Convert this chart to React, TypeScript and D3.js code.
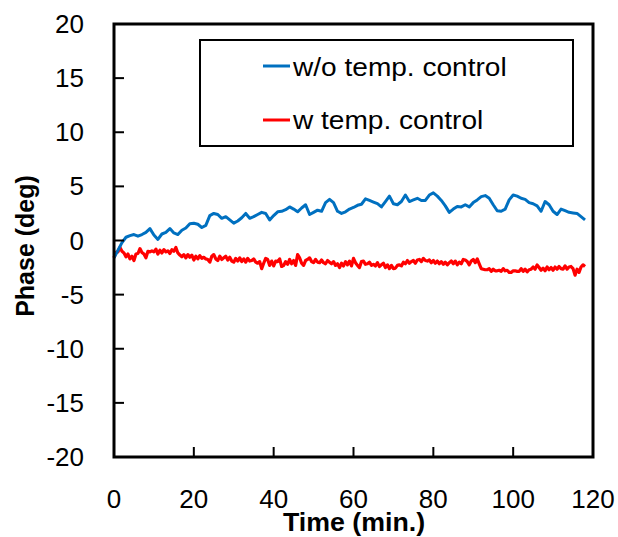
import React from "react";
import * as d3 from "d3";

const blueT = d3.range(0, 119, 1);
const blueV = [
  -1.6, -0.9, -0.2, 0.3, 0.45, 0.55, 0.4, 0.55, 0.75, 1.1,
  0.5, 0.1, 0.6, 0.75, 1.1, 0.7, 0.55, 0.95, 1.15, 1.55,
  1.6, 1.5, 1.2, 1.4, 2.3, 2.5, 2.4, 2.05, 2.2, 1.9,
  1.6, 1.8, 2.1, 2.5, 2.05, 2.2, 2.4, 2.6, 2.5, 1.9,
  2.3, 2.65, 2.7, 2.85, 3.1, 2.9, 2.65, 3.0, 3.3, 2.4,
  2.6, 2.8, 2.7, 3.5, 3.8, 3.5, 2.7, 2.5, 2.65, 2.9,
  3.05, 3.25, 3.35, 3.85, 3.7, 3.55, 3.4, 3.1, 3.6, 4.1,
  3.4, 3.3, 3.6, 4.2, 3.6, 3.75, 3.9, 3.7, 3.7, 4.2,
  4.4, 4.1, 3.7, 3.2, 2.6, 2.9, 3.15, 3.1, 3.3, 3.1,
  3.5, 3.75, 4.05, 4.15, 3.9, 3.3, 2.75, 2.7, 2.9, 3.75,
  4.2, 4.1, 3.9, 3.8, 3.5, 3.4, 3.2, 2.7, 3.6, 3.3,
  2.7, 2.4, 2.9, 2.75, 2.6, 2.55, 2.5, 2.2, 1.9,
];

const redV = [
  -1.6, -1.1, -1.05, -0.65, -1.0, -1.15, -1.5, -1.25, -1.7, -1.45,
  -1.85, -1.25, -1.2, -0.75, -1.1, -1.25, -1.6, -1.0, -1.05, -0.95,
  -1.05, -0.8, -1.25, -0.9, -1.15, -0.85, -1.05, -0.95, -1.2, -0.85,
  -1.0, -0.65, -1.15, -1.35, -1.5, -1.3, -1.6, -1.3, -1.55, -1.35,
  -1.8, -1.45, -1.7, -1.4, -1.65, -1.55, -1.7, -1.75, -2.0, -1.45,
  -1.3, -1.7, -1.85, -1.45, -1.75, -1.6, -1.45, -1.8, -1.55, -1.9,
  -2.0, -1.65, -1.9, -1.6, -1.95, -1.7, -2.0, -1.65, -1.9, -1.85,
  -1.7, -2.0, -2.1, -1.95, -2.6, -2.1, -1.65, -1.75, -2.3, -1.9,
  -2.35, -1.9, -1.95, -1.7, -2.4, -2.3, -1.95, -2.2, -1.75, -2.15,
  -1.85, -2.3, -1.3, -1.6, -2.1, -2.3, -1.85, -1.75, -1.6, -1.95,
  -2.05, -1.75, -2.0, -2.05, -1.8, -2.05, -2.15, -1.85, -2.0, -2.15,
  -1.95, -2.3, -2.15, -2.5, -2.1, -2.35, -1.95, -2.25, -1.9, -2.35,
  -1.65, -2.05, -2.3, -2.5, -1.95, -1.9, -2.2, -2.15, -2.0, -2.3,
  -2.2, -2.35, -2.05, -2.4, -2.25, -2.1, -2.5, -2.25, -2.6, -2.3,
  -2.6, -2.55, -2.3, -2.25, -2.35, -2.0, -2.15, -1.85, -2.1, -1.95,
  -1.85, -2.1, -1.8, -1.75, -1.95, -1.65, -1.85, -1.9, -1.8, -2.05,
  -1.85, -2.1, -1.9, -2.15, -1.95, -2.2, -2.0, -2.25, -2.05, -1.9,
  -2.15, -1.9, -2.25, -2.0, -2.15, -1.75, -1.8, -1.95, -2.25, -1.9,
  -1.75, -2.05, -1.7, -2.15, -2.6, -2.65, -2.7, -2.7, -2.6, -2.85,
  -2.65, -2.8, -2.8, -2.75, -2.85, -2.6, -2.8, -2.75, -2.95, -2.95,
  -2.8, -2.8, -2.85, -2.85, -2.6, -2.85, -2.65, -2.9, -2.7, -2.65,
  -2.45, -2.65, -2.25, -2.5, -2.75, -2.55, -2.8, -2.45, -2.7, -2.5,
  -2.75, -2.45, -2.65, -2.4, -2.6, -2.65, -2.35, -2.65, -2.45, -2.4,
  -2.6, -3.2, -2.65, -2.95, -2.45, -2.25, -2.4,
];
const redT = redV.map((_, i) => i * 0.5);

const xTicks = [0, 20, 40, 60, 80, 100, 120];
const yTicks = [-20, -15, -10, -5, 0, 5, 10, 15, 20];
const seriesNames = ["w/o temp. control", "w temp. control"];
const seriesColors = ["#0070C0", "#FF0000"];

const W = 618, H = 537;
const L = 114, R = 593, T = 24, B = 457;
const FONT = "'Liberation Sans', Arial, sans-serif";

export default function App() {
  const x = d3.scaleLinear().domain([0, 120]).range([L, R]);
  const y = d3.scaleLinear().domain([-20, 20]).range([B, T]);
  const line = d3.line<[number, number]>().x((d) => x(d[0])).y((d) => y(d[1]));
  const blue = line(blueT.map((t, i) => [t, blueV[i]] as [number, number]));
  const red = line(redT.map((t, i) => [t, redV[i]] as [number, number]));
  const tickFs = 25;
  const tickSx = 1.04;
  return (
    <svg width={W} height={H} style={{ position: "fixed", left: 0, top: 0 }} fontFamily={FONT}>
      <rect x={0} y={0} width={W} height={H} fill="#fff" />
      <path d={red ?? ""} fill="none" stroke={seriesColors[1]} strokeWidth={3.2} strokeLinejoin="round" />
      <path d={blue ?? ""} fill="none" stroke={seriesColors[0]} strokeWidth={3} strokeLinejoin="round" />
      {yTicks.map((v) => (
        <g key={"y" + v}>
          <line x1={L} x2={L + 10} y1={y(v)} y2={y(v)} stroke="#000" strokeWidth={2} />
          <text
            transform={`translate(${84},${y(v) + 9}) scale(${tickSx},1)`}
            textAnchor="end"
            fontSize={tickFs}
            fill="#000"
          >
            {v}
          </text>
        </g>
      ))}
      {xTicks.map((v) => (
        <g key={"x" + v}>
          <line x1={x(v)} x2={x(v)} y1={B} y2={B - 10} stroke="#000" strokeWidth={2} />
          <text
            transform={`translate(${x(v)},${508}) scale(${tickSx},1)`}
            textAnchor="middle"
            fontSize={tickFs}
            fill="#000"
          >
            {v}
          </text>
        </g>
      ))}
      <rect x={L} y={T} width={R - L} height={B - T} fill="none" stroke="#000" strokeWidth={3} />
      <rect x={200} y={40} width={373} height={106} fill="#fff" stroke="#000" strokeWidth={2} />
      {seriesNames.map((n, i) => (
        <g key={n}>
          <line x1={263} x2={290} y1={66 + i * 54} y2={66 + i * 54} stroke={seriesColors[i]} strokeWidth={3} />
          <text
            transform={`translate(293,${76 + i * 53}) scale(1.08,1)`}
            fontSize={26}
            fill="#000"
          >
            {n}
          </text>
        </g>
      ))}
      <text
        transform={`translate(${354},${531}) scale(1.07,1)`}
        textAnchor="middle"
        fontSize={25}
        fontWeight="bold"
        fill="#000"
      >
        Time (min.)
      </text>
      <text
        transform={`translate(${34},${246}) rotate(-90)`}
        textAnchor="middle"
        fontSize={25}
        fontWeight="bold"
        fill="#000"
      >
        Phase (deg)
      </text>
    </svg>
  );
}
